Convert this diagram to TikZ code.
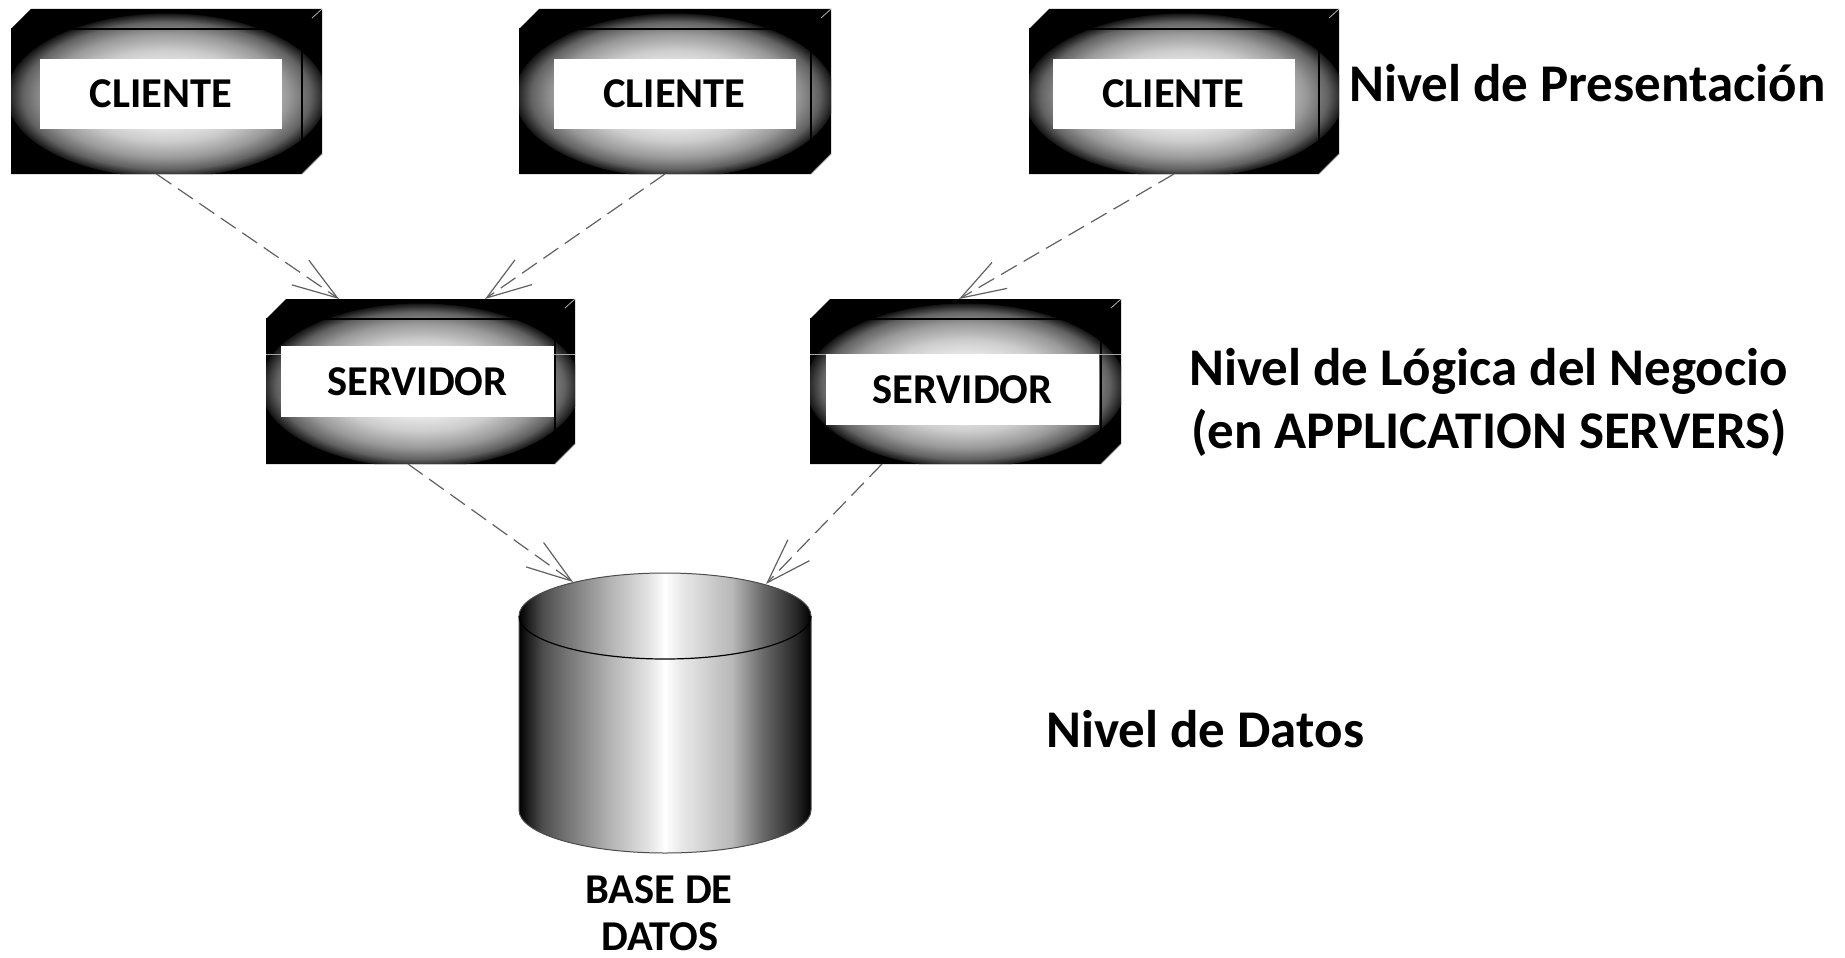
\documentclass[tikz,border=0pt]{standalone}
\usepackage{fontspec}
\setmainfont{Carlito}
\usetikzlibrary{arrows.meta,calc}

% glow inside the device boxes: white core fading to black at the rim
\pgfdeclareradialshading{glow}{\pgfpoint{0bp}{0bp}}{%
  color(0bp)=(white); color(8bp)=(white!94!black); color(14bp)=(white!80!black);
  color(19bp)=(white!60!black); color(22.5bp)=(white!38!black);
  color(25bp)=(white!8!black); color(50bp)=(black)}

% metallic drum for the database cylinder
\pgfdeclarehorizontalshading{drum}{100bp}{%
  color(0bp)=(black); color(25bp)=(black); color(29bp)=(white!30!black);
  color(33bp)=(white!45!black); color(40.5bp)=(white!70!black);
  color(47.5bp)=(white!90!black); color(50bp)=(white); color(52.5bp)=(white!92!black);
  color(61.5bp)=(white!72!black); color(67bp)=(white!40!black);
  color(72.5bp)=(white!15!black); color(75bp)=(black); color(100bp)=(black)}

\tikzset{
  boxarea/.style={shape=rectangle, inner sep=0pt, outer sep=0pt},
  lbl/.style={shape=rectangle, fill=white, inner sep=0pt, minimum height=70,
    font=\fontsize{42.5}{50}\selectfont\bfseries},
  tier/.style={anchor=base west, inner sep=0pt, font=\fontsize{53}{63}\selectfont\bfseries},
  dblbl/.style={anchor=base, inner sep=0pt, font=\fontsize{42.5}{50}\selectfont\bfseries},
  dep/.style={draw=black!62, line width=1.2, dash pattern=on 18pt off 8pt,
    -{Straight Barb[length=45pt,width=30pt]}},
}

% device box: #1 name, #2 left, #3 top, #4 right, #5 bottom
\newcommand\devbox[5]{%
  \node[boxarea, minimum width={#4-#2}, minimum height={#5-#3}] (#1) at ({(#2+#4)/2},{(#3+#5)/2}) {};
  \fill[black] (#2,{#3+20}) -- ({#2+20},#3) -- (#4,#3) -- (#4,{#5-20}) -- ({#4-20},#5) -- (#2,#5) -- cycle;
  \begin{scope}
    \clip (#2,{#3+20}) -- ({#2+20},#3) -- (#4,#3) -- (#4,{#5-20}) -- ({#4-20},#5) -- (#2,#5) -- cycle;
    \shade[shading=glow] ({(#2+#4)/2},{(#3+#5)/2+4}) ellipse [x radius=160, y radius=82];
  \end{scope}
  \draw[black, line width=1.3] (#2,{#3+20}) -- ({#4-20},{#3+20}) -- ({#4-20},#5);
  \draw[white!70!black, line width=0.8] ({#4-10},{#3+9}) -- (#4,#3);
  \draw[white!60!black, line width=0.8] (#4,{#5-20}) -- ({#4-20},#5);
}

\begin{document}
\begin{tikzpicture}[x=1pt,y=-1pt]
\useasboundingbox (0,0) rectangle (1845,958);
\fill[white] (0,0) rectangle (1845,958);

% presentation tier
\devbox{c1}{11}{9}{322}{174}
\devbox{c2}{519}{9}{831}{174}
\devbox{c3}{1029}{9}{1339}{174}
\node[lbl, minimum width=242] (c1t) at (161,94) {CLIENTE};
\node[lbl, minimum width=242] (c2t) at (674.5,94) {CLIENTE};
\node[lbl, minimum width=242] (c3t) at (1173.5,94) {CLIENTE};

% business logic tier
\devbox{s1}{266}{299}{575}{464}
\devbox{s2}{810}{299}{1121}{464}
\draw[white!65!black, line width=0.9] (s1.west |- 0,354) -- (s1.east |- 0,354);
\draw[white!65!black, line width=0.9] (s2.west |- 0,354) -- (s2.east |- 0,354);
\node[lbl, minimum width=273, minimum height=71] (s1t) at (417.5,381.5) {SERVIDOR};
\node[lbl, minimum width=273, minimum height=71] (s2t) at (962.5,389.5) {SERVIDOR};

% data tier: cylinder
\node[boxarea, minimum width=292, minimum height=280] (db) at (665,713) {};
\shade[shading=drum] (519,616) arc[start angle=180, end angle=360, x radius=146, y radius=43]
  -- (811,810) arc[start angle=0, end angle=180, x radius=146, y radius=43] -- cycle;
\draw[black!70, line width=1] (519,616) arc[start angle=180, end angle=360, x radius=146, y radius=43]
  -- (811,810) arc[start angle=0, end angle=180, x radius=146, y radius=43] -- cycle;
\draw[black, line width=1.2] (519,616) arc[start angle=180, end angle=0, x radius=146, y radius=43];
\node[dblbl] (dbl1) at (659,903) {BASE DE};
\node[dblbl] (dbl2) at (660,950) {DATOS};

% tier captions
\node[tier] (tier1) at (1349,102) {Nivel de Presentación};
\node[tier] (tier2a) at (1189,385) {Nivel de Lógica del Negocio};
\node[tier] (tier2b) at (1191,448) {(en APPLICATION SERVERS)};
\node[tier] (tier3) at (1046,747) {Nivel de Datos};

% dependencies
\draw[dep] ([xshift=-10pt]c1.south) -- ([xshift=-81.5pt]s1.north);
\draw[dep] ([xshift=-10pt]c2.south) -- ([xshift=64.5pt]s1.north);
\draw[dep] ([xshift=-10pt]c3.south) -- ([xshift=-6.5pt]s2.north);
\draw[dep] ([xshift=-12.5pt]s1.south) -- ([xshift=-92pt,yshift=-9pt]db.north);
\draw[dep] ([xshift=-83.5pt]s2.south) -- ([xshift=101pt,yshift=-11pt]db.north);
\end{tikzpicture}
\end{document}
